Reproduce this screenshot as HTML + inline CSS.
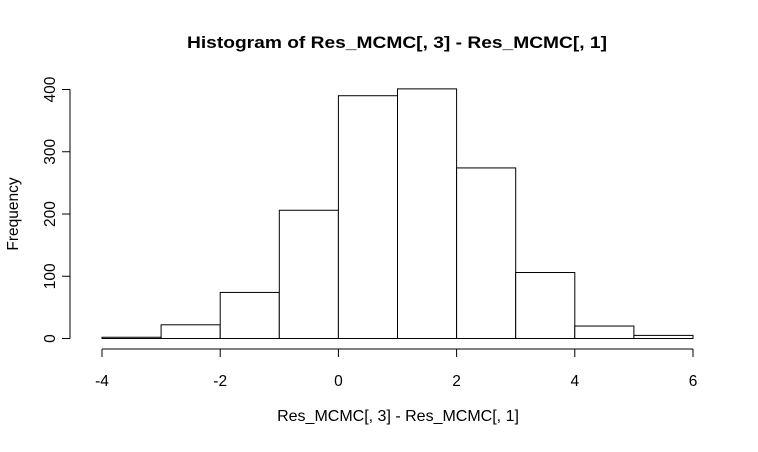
<!DOCTYPE html>
<html><head><meta charset="utf-8"><style>
body{margin:0;background:#fff}
svg text{font-family:"Liberation Sans",Arial,sans-serif;fill:#000}
</style></head><body>
<svg width="758" height="447">
<text x="397" y="48" text-anchor="middle" font-size="17" font-weight="bold" textLength="420" lengthAdjust="spacingAndGlyphs">Histogram of Res_MCMC[, 3] - Res_MCMC[, 1]</text>
<text x="398" y="421" text-anchor="middle" font-size="16">Res_MCMC[, 3] - Res_MCMC[, 1]</text>
<text transform="translate(18,214) rotate(-90)" text-anchor="middle" font-size="15.5">Frequency</text>
<g id="bars"></g>
<g id="xaxis"></g>
<g id="yaxis"></g>
</svg>
<script>
const binStarts=[-4,-3,-2,-1,0,1,2,3,4,5];
const counts=[2,22,74,206,390,401,274,106,20,5];
const xTicks=[-4,-2,0,2,4,6];
const yTicks=[0,100,200,300,400];
const NS="http://www.w3.org/2000/svg";
const X=v=>102+(v+4)*59.1;
const Y=v=>338.5-v*0.6225;
function mk(t,a,p){const e=document.createElementNS(NS,t);for(const k in a)e.setAttribute(k,a[k]);p.appendChild(e);return e;}
const bars=document.getElementById('bars');
binStarts.forEach((b,i)=>{
 const r=mk('rect',{x:X(b),y:Y(counts[i]),width:X(b+1)-X(b),height:Y(0)-Y(counts[i]),fill:'#fff',stroke:'#000','stroke-width':1},bars);
 
 
});
const xa=document.getElementById('xaxis');
mk('line',{x1:X(xTicks[0]),x2:X(xTicks[xTicks.length-1]),y1:349,y2:349,stroke:'#000'},xa);
xTicks.forEach(t=>{
 mk('line',{x1:X(t),x2:X(t),y1:349,y2:357,stroke:'#000'},xa);
 const tx=mk('text',{x:X(t),y:386,'text-anchor':'middle','font-size':15.5},xa);tx.textContent=t;
 
 
});
const ya=document.getElementById('yaxis');
mk('line',{x1:70,x2:70,y1:Y(yTicks[0]),y2:Y(yTicks[yTicks.length-1]),stroke:'#000'},ya);
yTicks.forEach(t=>{
 mk('line',{x1:62,x2:70,y1:Y(t),y2:Y(t),stroke:'#000'},ya);
 const tx=mk('text',{transform:`translate(55,${Y(t)}) rotate(-90)`,'text-anchor':'middle','font-size':15.5},ya);tx.textContent=t;
 
 
});
</script>
</body></html>
